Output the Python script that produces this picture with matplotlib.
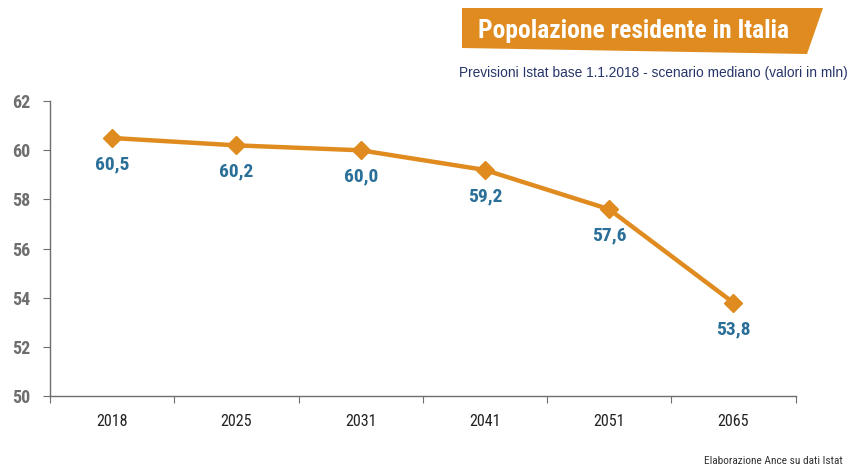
import matplotlib
matplotlib.use("Agg")
import matplotlib.pyplot as plt
from matplotlib.patches import Polygon

# data
anni = ["2018", "2025", "2031", "2041", "2051", "2065"]
popolazione = [60.5, 60.2, 60.0, 59.2, 57.6, 53.8]
etichette = ["60,5", "60,2", "60,0", "59,2", "57,6", "53,8"]
y_ticks = [50, 52, 54, 56, 58, 60, 62]

arancio = "#E08B1F"
blu = "#2A6F98"
grigio = "#6E6E6E"
narrow = ["Roboto Condensed", "DejaVu Sans"]

fig = plt.figure(figsize=(8.52, 4.66), dpi=100)
ax = fig.add_axes([0.0587, 0.150, 0.875, 0.633])

x = list(range(len(anni)))
ax.plot(x, popolazione, color=arancio, linewidth=3.2, marker="D",
        markersize=9, markeredgecolor=arancio, markerfacecolor=arancio)

for xi, yi, lab in zip(x, popolazione, etichette):
    ax.annotate(lab, (xi, yi), xytext=(0, -19), textcoords="offset points",
                ha="center", va="center", color=blu, fontsize=14,
                fontweight="bold", family=narrow)

ax.set_xlim(-0.5, len(anni) - 0.5)
ax.set_ylim(50, 62)
ax.set_yticks(y_ticks)
ax.set_yticklabels([str(v) for v in y_ticks], family=narrow,
                   fontsize=13, fontweight="bold", color=grigio)
ax.set_xticks(x)
ax.set_xticklabels(anni, family=narrow, fontsize=11.5, color="#222222")
ax.set_xticks([i - 0.5 for i in range(len(anni) + 1)], minor=True)
ax.tick_params(axis="x", which="major", length=0, pad=13)
ax.tick_params(axis="x", which="minor", length=5, color=grigio, width=0.8)
ax.tick_params(axis="y", length=5, color=grigio, width=0.8, pad=9)

for s in ["top", "right"]:
    ax.spines[s].set_visible(False)
for s in ["left", "bottom"]:
    ax.spines[s].set_color(grigio)
    ax.spines[s].set_linewidth(1.0)

# banner titolo
W, H = 852, 466
banner = [(462, 8), (823, 8), (807, 54), (462, 48)]
fig.patches.append(Polygon([(px / W, 1 - py / H) for px, py in banner],
                           closed=True, transform=fig.transFigure,
                           facecolor=arancio, edgecolor="none"))
fig.text(478 / W, 1 - 31 / H, "Popolazione residente in Italia", color="white",
         fontsize=18.4, fontweight="bold", family=narrow, va="center", ha="left")
fig.text(848 / W, 1 - 73 / H,
         "Previsioni Istat base 1.1.2018 - scenario mediano (valori in mln)",
         color="#26346A", fontsize=9.9, family=["Liberation Sans", "DejaVu Sans"],
         va="center", ha="right")
fig.text(843 / W, 1 - 461 / H, "Elaborazione Ance su dati Istat",
         color="#333333", fontsize=8.2, family=narrow, va="center", ha="right")

fig.savefig("out.png", dpi=100)
